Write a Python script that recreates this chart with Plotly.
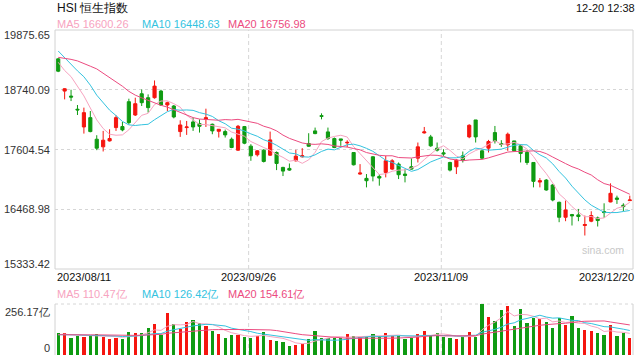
import plotly.graph_objects as go
import pandas as pd

# ---------------- data ----------------
opens = [19327, 18715, 18620, 18370, 18033, 18210, 17800, 17655, 17768, 18021,
         18040, 18513, 18260, 18664, 18589, 18589, 18715, 18450, 18431, 17945,
         18021, 18128, 18097, 18179, 18084, 17951, 17945, 17800, 17592, 18040,
         17668, 17504, 17592, 17497, 17548, 17264, 17245, 17390, 17466, 17718,
         17958, 18248, 17939, 17812, 17806, 17730, 17547, 17138, 17056, 17466,
         17093, 17169, 17232, 17327, 17138, 17276, 17440, 17920, 17844, 17629,
         17541, 17358, 17276, 17484, 17844, 18166, 17579, 17630, 17926, 17718,
         17693, 17768, 17674, 17548, 17358, 16986, 17024, 16930, 16601, 16317,
         16368, 16362, 16160, 16242, 16305, 16425, 16608, 16683, 16545, 16633]
highs = [19340, 18770, 18740, 18450, 18400, 18336, 17876, 17958, 17989, 18254,
         18128, 18570, 18589, 18746, 18652, 18917, 18740, 18513, 18450, 18160,
         18147, 18210, 18178, 18380, 18097, 17989, 17983, 17832, 18071, 18052,
         17705, 17592, 17611, 17945, 17567, 17276, 17339, 17598, 17630, 17914,
         18021, 18292, 18021, 17832, 17806, 17780, 17547, 17327, 17138, 17478,
         17138, 17485, 17421, 17358, 17232, 17434, 17737, 18033, 17882, 17737,
         17610, 17371, 17421, 17566, 18084, 18166, 17592, 17787, 18052, 17781,
         17926, 17768, 17705, 17592, 17358, 17062, 17043, 16949, 16614, 16633,
         16380, 16475, 16349, 16431, 16330, 16582, 16961, 16727, 16582, 16727]
lows = [19075, 18557, 18525, 18260, 17907, 17932, 17592, 17567, 17756, 17958,
        17951, 18084, 18241, 18431, 18305, 18570, 18431, 18336, 18197, 17844,
        17882, 17958, 17926, 18033, 17895, 17832, 17832, 17630, 17579, 17705,
        17390, 17472, 17358, 17484, 17213, 17100, 17200, 17377, 17453, 17655,
        17895, 18178, 17787, 17630, 17674, 17650, 17301, 17125, 16885, 16999,
        16917, 17075, 17213, 17043, 16980, 17220, 17358, 17907, 17655, 17566,
        17484, 17188, 17138, 17358, 17819, 17737, 17421, 17548, 17718, 17655,
        17579, 17566, 17358, 17314, 16885, 16885, 16822, 16620, 16223, 16242,
        16160, 16242, 15970, 16223, 16141, 16305, 16601, 16570, 16431, 16633]
closes = [19093, 18759, 18601, 18357, 18305, 17945, 17630, 17781, 17813, 18210,
          17977, 18115, 18475, 18494, 18400, 18809, 18450, 18494, 18223, 18071,
          18033, 18033, 18046, 18210, 17958, 17989, 17882, 17642, 18046, 17724,
          17485, 17579, 17377, 17787, 17339, 17194, 17213, 17478, 17485, 17667,
          17907, 18235, 17812, 17642, 17781, 17740, 17314, 17157, 17011, 17100,
          17062, 17390, 17390, 17125, 17112, 17232, 17655, 17939, 17674, 17592,
          17522, 17213, 17402, 17402, 18065, 17844, 17440, 17756, 17768, 17699,
          17895, 17579, 17529, 17358, 16999, 17011, 16835, 16645, 16317, 16456,
          16343, 16330, 16179, 16349, 16254, 16406, 16772, 16658, 16519, 16645]
volumes = [109, 112, 87, 94, 92, 97, 105, 92, 82, 85,
           82, 115, 112, 112, 137, 156, 102, 213, 154, 132,
           166, 176, 159, 146, 121, 105, 87, 100, 102, 92,
           87, 95, 114, 75, 70, 64, 45, 50, 55, 80,
           121, 84, 87, 85, 84, 104, 95, 92, 92, 105,
           95, 109, 97, 95, 80, 87, 105, 121, 97, 112,
           92, 85, 80, 92, 115, 92, 256.17, 191, 171, 226,
           246, 146, 231, 162, 187, 181, 166, 136, 184, 151,
           196, 134, 126, 119, 112, 100, 151, 95, 112, 85]
# sessions before the first visible candle (only feed the moving averages)
prior_closes = [19015, 19105, 18952, 19180, 19075, 18668, 19434, 19365, 19639, 19917,
                20079, 19902, 19517, 19421, 19539, 19537, 19184, 19246, 19248]
prior_volumes = [102, 98, 105, 100, 96, 104, 110, 108, 101, 99,
                 103, 100, 97, 106, 102, 99, 104, 98, 101]

tick_index = [0, 30, 60, 89]
tick_labels = ["2023/08/11", "2023/09/26", "2023/11/09", "2023/12/20"]
price_ticks = [15333.42, 16468.98, 17604.54, 18740.09, 19875.65]
price_tick_labels = ["15333.42", "16468.98", "17604.54", "18740.09", "19875.65"]
vol_ticks = [0, 256.17]
vol_tick_labels = ["0", "256.17亿"]
ma_periods = [5, 10, 20]
price_ma_labels = ["MA5 16600.26", "MA10 16448.63", "MA20 16756.98"]
vol_ma_labels = ["MA5 110.47亿", "MA10 126.42亿", "MA20 154.61亿"]
title_text = "HSI 恒生指数"
time_text = "12-20 12:38"
watermark = "sina.com"

# ---------------- style ----------------
W, H = 640, 360
PL, PR = 55, 633          # plot left/right (px)
MT, MB = 30, 269          # main panel top/bottom (px)
VT, VB = 304, 355         # volume panel top/bottom (px)
RED = "#f5150f"
GREEN = "#0f9b12"
MA_COLORS = ["#f7a3c0", "#34c3df", "#ec4b80"]
BORDER = "#d2d2d2"
GRID = "#d6d6d6"
FONT = "Arial, Liberation Sans, sans-serif"
TXT = "#333333"


def px(x):
    return x / W


def py(y):
    return 1 - y / H


n = len(closes)
idx = list(range(n))
close_all = pd.Series(prior_closes + closes, dtype=float)
vol_all = pd.Series(prior_volumes + volumes, dtype=float)
k = len(prior_closes)

fig = go.Figure()

fig.add_trace(go.Candlestick(
    x=idx, open=opens, high=highs, low=lows, close=closes,
    increasing=dict(line=dict(color=RED, width=1), fillcolor=RED),
    decreasing=dict(line=dict(color=GREEN, width=1), fillcolor=GREEN),
    whiskerwidth=0, showlegend=False, hoverinfo="skip",
    xaxis="x", yaxis="y"))

for p, c in zip(ma_periods, MA_COLORS):
    ma = close_all.rolling(p).mean().iloc[k:].tolist()
    fig.add_trace(go.Scatter(x=idx, y=ma, mode="lines", line=dict(color=c, width=1),
                             showlegend=False, hoverinfo="skip", xaxis="x", yaxis="y"))

bar_colors = [RED if c >= o else GREEN for o, c in zip(opens, closes)]
fig.add_trace(go.Bar(x=idx, y=volumes, marker=dict(color=bar_colors, line=dict(width=0)),
                     width=0.5, showlegend=False, hoverinfo="skip", xaxis="x2", yaxis="y2"))

for p, c in zip(ma_periods, MA_COLORS):
    ma = vol_all.rolling(p).mean().iloc[k:].tolist()
    fig.add_trace(go.Scatter(x=idx, y=ma, mode="lines", line=dict(color=c, width=1),
                             showlegend=False, hoverinfo="skip", xaxis="x2", yaxis="y2"))

xr = [-0.5, n - 0.5]
fig.update_layout(
    width=W, height=H, margin=dict(l=0, r=0, t=0, b=0),
    paper_bgcolor="white", plot_bgcolor="white",
    font=dict(family=FONT, size=11, color=TXT),
    bargap=0,
    xaxis=dict(domain=[px(PL), px(PR)], range=xr, showgrid=False, zeroline=False,
               showticklabels=False, rangeslider=dict(visible=False), anchor="y", fixedrange=True),
    yaxis=dict(domain=[py(MB), py(MT)], range=[price_ticks[0], price_ticks[-1]],
               tickvals=price_ticks[1:-1], showticklabels=False, showgrid=True,
               gridcolor=GRID, griddash="3px,3px", gridwidth=1, zeroline=False, anchor="x"),
    xaxis2=dict(domain=[px(PL), px(PR)], range=xr, showgrid=False, zeroline=False,
                showticklabels=False, anchor="y2"),
    yaxis2=dict(domain=[py(VB), py(VT)], range=[0, vol_ticks[-1]], showgrid=False,
                showticklabels=False, zeroline=False, anchor="x2"),
)

shapes = []
# main panel border
shapes.append(dict(type="rect", xref="paper", yref="paper", x0=px(PL), x1=px(PR),
                   y0=py(MB), y1=py(MT), line=dict(color=BORDER, width=1), layer="below"))
# volume panel borders
shapes.append(dict(type="line", xref="paper", yref="paper", x0=px(PL), x1=px(PR),
                   y0=py(VT), y1=py(VT), line=dict(color=GRID, width=1, dash="3px,3px"),
                   layer="below"))
for xx in (PL, PR):
    shapes.append(dict(type="line", xref="paper", yref="paper", x0=px(xx), x1=px(xx),
                       y0=py(VB), y1=py(VT), line=dict(color=BORDER, width=1), layer="below"))
# vertical date grid lines
for t in tick_index[1:-1]:
    for (a, b) in ((MT, MB), (VT, VB)):
        shapes.append(dict(type="line", xref="x", yref="paper", x0=t - 0.35, x1=t - 0.35,
                           y0=py(b), y1=py(a), line=dict(color=GRID, width=1, dash="4px,3px"),
                           layer="below"))
fig.update_layout(shapes=shapes)

ann = []
ann.append(dict(text=title_text, x=px(PL), y=py(8), xanchor="left", yanchor="middle",
                font=dict(size=12, color="#111111")))
ann.append(dict(text=time_text, x=px(637), y=py(8), xanchor="right", yanchor="middle",
                font=dict(size=11, color="#111111")))
leg_x = [PL, 140, 226]
for lab, c, lx in zip(price_ma_labels, MA_COLORS, leg_x):
    ann.append(dict(text=lab, x=px(lx), y=py(24), xanchor="left", yanchor="middle",
                    font=dict(size=11, color=c)))
for lab, c, lx in zip(vol_ma_labels, MA_COLORS, leg_x):
    ann.append(dict(text=lab, x=px(lx), y=py(294), xanchor="left", yanchor="middle",
                    font=dict(size=11, color=c)))
# price axis labels
label_y = [264, 209, 149.5, 89.5, 35.5]
for v, lab, yy in zip(price_ticks, price_tick_labels, label_y):
    ann.append(dict(text=lab, x=px(52), y=py(yy), xanchor="right", yanchor="middle",
                    font=dict(size=11, color=TXT)))
# volume axis labels
for lab, yy in zip(vol_tick_labels, [348, 312]):
    ann.append(dict(text=lab, x=px(52), y=py(yy), xanchor="right", yanchor="middle",
                    font=dict(size=11, color=TXT)))
# date labels
for i, (t, lab) in enumerate(zip(tick_index, tick_labels)):
    if i == 0:
        xa, xx = "left", px(PL)
    elif i == len(tick_index) - 1:
        xa, xx = "right", px(636)
    else:
        xa, xx = "center", None
    d = dict(text=lab, y=py(277), yanchor="middle", xanchor=xa,
             font=dict(size=11, color="#111111"))
    if xx is None:
        d.update(x=t - 0.35, xref="x", yref="paper")
    else:
        d.update(x=xx, xref="paper", yref="paper")
    ann.append(d)
ann.append(dict(text=watermark, x=px(603), y=py(250), xanchor="center", yanchor="middle",
                font=dict(size=10.5, color="#c8c8c8")))
for a in ann:
    a.setdefault("xref", "paper")
    a.setdefault("yref", "paper")
    a["showarrow"] = False
fig.update_layout(annotations=ann)

fig.write_html("out.html", config={"displayModeBar": False},
               post_script="document.body.style.margin='0';document.body.style.overflow='hidden';")
